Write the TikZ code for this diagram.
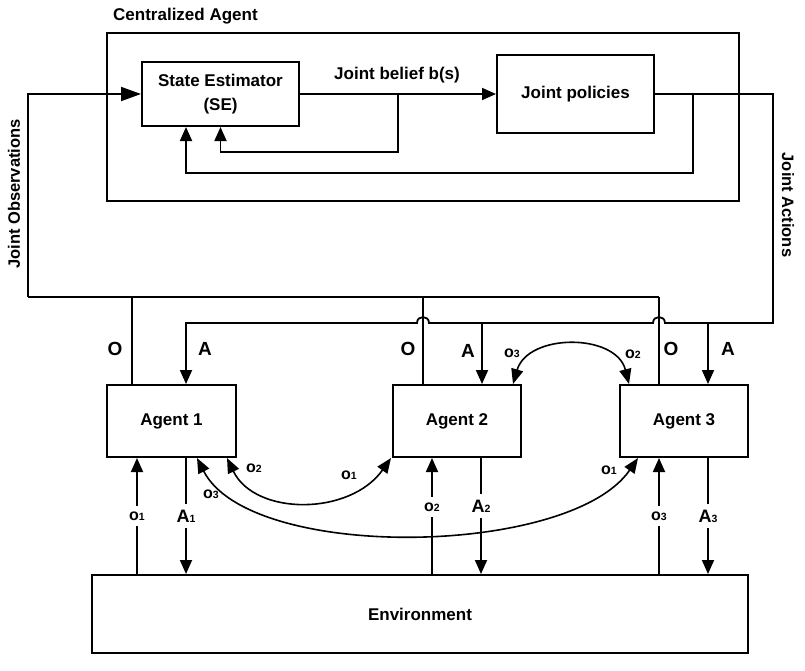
\documentclass[tikz,border=0pt]{standalone}
\usepackage{fontspec}
\setmainfont{Liberation Sans}
\usetikzlibrary{arrows.meta}
\newcommand\sublab[2]{\fontsize{16}{16}\selectfont #1\fontsize{10.5}{10}\selectfont #2}
\newcommand\actlab[2]{\fontsize{18}{18}\selectfont #1\fontsize{10.5}{10}\selectfont #2}
\begin{document}
\begin{tikzpicture}[x=1pt,y=-1pt,
  box/.style={draw,line width=2pt,inner sep=0pt,align=center,font=\bfseries\fontsize{17}{24}\selectfont},
  ln/.style={line width=1.8pt},
  cv/.style={line width=1.6pt},
  tipa/.style={-{Triangle[length=14pt,width=12pt]}},
  tipb/.style={-{Triangle[length=20pt,width=14pt]}},
  dbl/.style={{Triangle[length=15pt,width=12pt]}-{Triangle[length=15pt,width=12pt]}},
  txt/.style={font=\bfseries\fontsize{17}{20}\selectfont,inner sep=1pt},
  side/.style={font=\bfseries\fontsize{16.5}{20}\selectfont,inner sep=1pt},
  big/.style={font=\bfseries\fontsize{19}{19}\selectfont,inner sep=1pt},
  sub/.style={font=\bfseries,inner sep=1pt},
  gap/.style={font=\bfseries,fill=white,inner xsep=1pt,inner ysep=6pt}]
\useasboundingbox (0,0) rectangle (805,670);

% boxes
\node[box,minimum width=632pt,minimum height=168pt] (CA) at (423,117) {};
\node[txt,anchor=west] (CAl) at (112,16) {Centralized Agent};
\node[box,minimum width=157pt,minimum height=64pt] (SE) at (220.5,94) {State Estimator\\(SE)};
\node[box,minimum width=157pt,minimum height=78pt] (JP) at (575.5,94) {Joint policies};
\node[box,minimum width=129pt,minimum height=72pt] (G1) at (171.5,421) {Agent 1};
\node[box,minimum width=128pt,minimum height=72pt] (G2) at (457,421) {Agent 2};
\node[box,minimum width=128pt,minimum height=72pt] (G3) at (684,421) {Agent 3};
\node[box,minimum width=656pt,minimum height=78pt] (EN) at (420,614) {Environment};

% side labels
\node[side,rotate=90] (JO) at (14,194) {Joint Observations};
\node[side,rotate=-90] (JA) at (788,205) {Joint Actions};

% helper coordinates
\coordinate (fb1) at (398,94);
\coordinate (fb2) at (693,94);
\coordinate (jo) at (28,297);
\coordinate (ob1) at (132,297);
\coordinate (ob2) at (423,297);
\coordinate (oe) at (659,297);
\coordinate (jr) at (773,94);
\coordinate (ja) at (773,323);
\coordinate (ja2) at (482,323);
\coordinate (ja3) at (708,323);
\coordinate (v1) at (137,500);
\coordinate (w1) at (186,500);
\coordinate (v2) at (432,500);
\coordinate (w2) at (481,500);
\coordinate (v3) at (659,500);
\coordinate (w3) at (708,500);

% inside the centralized agent
\draw[ln,tipa] (SE.east) -- (JP.west);
\node[txt] (JB) at (397,75) {Joint belief b(s)};
\draw[ln,tipa] (fb1) -- ++(0,58) -| (SE.south);
\draw[ln,tipa] (fb2) -- ++(0,79) -| ([xshift=-34.5pt]SE.south);

% joint observations
\draw[ln,tipb] (jo) |- (SE.west);
\draw[ln] (jo) -- (oe);
\draw[ln] (ob1) -- (ob1 |- G1.north);
\draw[ln] (ob2) -- (ob2 |- G2.north);
\draw[ln] (oe) -- (oe |- G3.north);

% joint actions bus with hops
\draw[ln,tipa] (JP.east) -- (jr) -- (ja) -- (665,323) .. controls (665,315) and (653,315) .. (653,323)
  -- (429,323) .. controls (429,315) and (417,315) .. (417,323) -| ([xshift=14.5pt]G1.north);
\draw[ln,tipa] (ja2) -- (ja2 |- G2.north);
\draw[ln,tipa] (ja3) -- (ja3 |- G3.north);

% O / A labels
\node[big] (O1) at (115,349) {O};
\node[big] (A1l) at (205,349) {A};
\node[big] (O2) at (408,349) {O};
\node[big] (A2l) at (468,351) {A};
\node[big] (O3) at (671,349) {O};
\node[big] (A3l) at (728,349) {A};

% agent <-> environment
\draw[ln,tipa] (v1 |- EN.north) -- (v1 |- G1.south);
\draw[ln,tipa] (w1 |- G1.south) -- (w1 |- EN.north);
\draw[ln,tipa] (v2 |- EN.north) -- (v2 |- G2.south);
\draw[ln,tipa] (w2 |- G2.south) -- (w2 |- EN.north);
\draw[ln,tipa] (v3 |- EN.north) -- (v3 |- G3.south);
\draw[ln,tipa] (w3 |- G3.south) -- (w3 |- EN.north);

% communication arcs
\draw[cv,dbl] ([xshift=55.5pt]G1.south) .. controls (255,516) and (350,516) .. ([xshift=-66pt]G2.south);
\draw[cv,dbl] ([xshift=25.5pt]G1.south) .. controls (250,562) and (570,557) .. ([xshift=-46pt]G3.south);
\draw[cv,dbl] ([xshift=56pt]G2.north) .. controls (528,333) and (616,333) .. ([xshift=-55pt]G3.north);

% bottom labels (line gaps)
\node[gap] (lo1) at (137,516) {\sublab{o}{1}};
\node[gap] (la1) at (186,516) {\actlab{A}{1}};
\node[gap] (lo2) at (432,507) {\sublab{o}{2}};
\node[gap] (la2) at (481,506) {\actlab{A}{2}};
\node[gap] (lo3) at (659,516) {\sublab{o}{3}};
\node[gap] (la3) at (708,516) {\actlab{A}{3}};

% arc labels
\node[sub] (c12) at (254,468) {\sublab{o}{2}};
\node[sub] (c13) at (211,494) {\sublab{o}{3}};
\node[sub] (c21) at (349,475) {\sublab{o}{1}};
\node[sub] (c31) at (609,470) {\sublab{o}{1}};
\node[sub] (c23) at (512,353) {\sublab{o}{3}};
\node[sub] (c32) at (633,354) {\sublab{o}{2}};
\end{tikzpicture}
\end{document}
